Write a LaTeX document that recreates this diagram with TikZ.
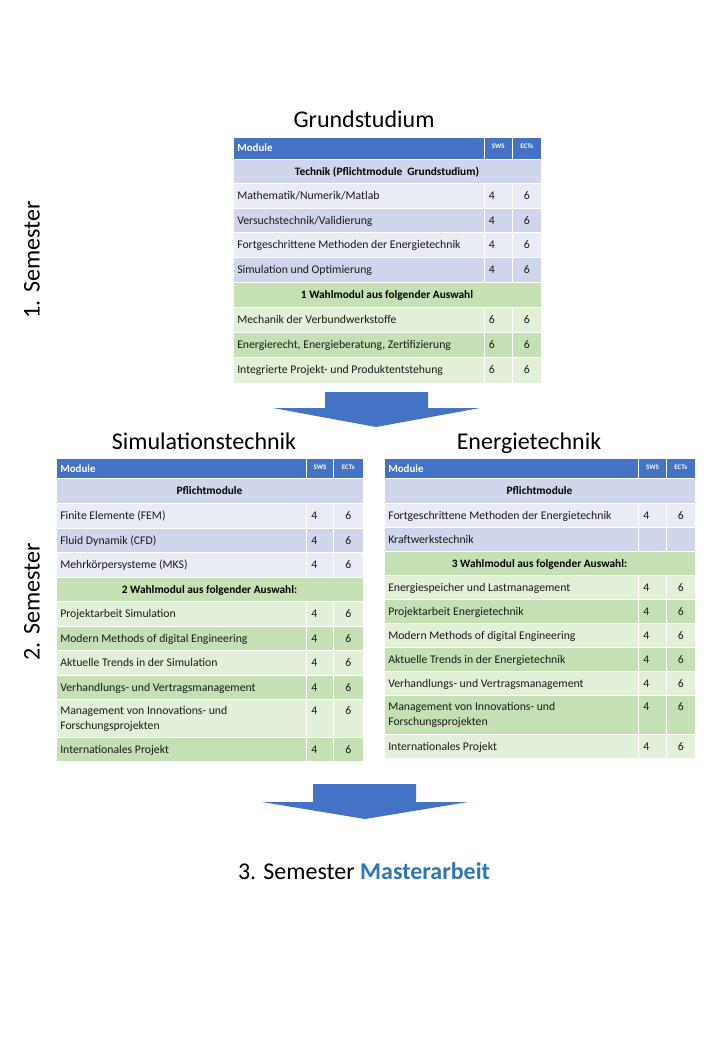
\documentclass[tikz,border=0pt]{standalone}
\usepackage{fontspec}
\setmainfont{Carlito}
\definecolor{hdrblue}{RGB}{68,114,196}
\definecolor{lavd}{RGB}{207,213,234}
\definecolor{lavl}{RGB}{233,235,245}
\definecolor{grnd}{RGB}{197,224,180}
\definecolor{grnl}{RGB}{226,240,217}
\definecolor{txt}{RGB}{25,25,25}
\definecolor{mablue}{RGB}{46,117,182}
\tikzset{
  cellbg/.style={draw=white, line width=0.75pt},
  celltxt/.style={inner sep=0pt, font=\fontsize{8.8}{10}\selectfont, text=txt, anchor=base west},
  ectstxt/.style={inner sep=0pt, font=\fontsize{8.8}{10}\selectfont, text=txt, anchor=base},
  grouptxt/.style={inner sep=0pt, font=\bfseries\fontsize{8.5}{10}\selectfont, text=black, anchor=base},
  hdrtxt/.style={inner sep=0pt, font=\bfseries\fontsize{8.2}{10}\selectfont, text=white, anchor=base west},
  colhdr/.style={inner sep=0pt, font=\bfseries\fontsize{5.2}{6}\selectfont, text=white, anchor=base},
  titletxt/.style={inner sep=0pt, font=\fontsize{18}{22}\selectfont, text=black, anchor=base},
  semtxt/.style={inner sep=0pt, font=\fontsize{18}{22}\selectfont, text=black, rotate=90},
  blockarrow/.style={fill=hdrblue, draw=none}
}
\newcommand\settab[4]{\def\xa{#1}\def\xb{#2}\def\xc{#3}\def\xd{#4}}
% header row
\newcommand\hrow[3]{%
  \path[cellbg, fill=hdrblue] (\xa,#2) rectangle (\xb,#3);
  \path[cellbg, fill=hdrblue] (\xb,#2) rectangle (\xc,#3);
  \path[cellbg, fill=hdrblue] (\xc,#2) rectangle (\xd,#3);
  \node[hdrtxt] (#1) at (\xa+4,#2+14.5) {Module};
  \node[colhdr] (#1s) at ({(\xb+\xc)/2},#2+11) {SWS};
  \node[colhdr] (#1e) at ({(\xc+\xd)/2},#2+11) {ECTs};
}
% group row spanning the table
\newcommand\grow[5]{%
  \path[cellbg, fill=#4] (\xa,#2) rectangle (\xd,#3);
  \node[grouptxt] (#1) at ({(\xa+\xd)/2},#2+16) {#5};
}
% normal row
\newcommand\trow[7]{%
  \path[cellbg, fill=#4] (\xa,#2) rectangle (\xb,#3);
  \path[cellbg, fill=#4] (\xb,#2) rectangle (\xc,#3);
  \path[cellbg, fill=#4] (\xc,#2) rectangle (\xd,#3);
  \node[celltxt] (#1) at (\xa+4,#2+16.5) {#5};
  \node[celltxt] (#1s) at (\xb+4.5,#2+16.5) {#6};
  \node[ectstxt] (#1e) at ({(\xc+\xd)/2},#2+16.5) {#7};
}
% two-line row
\newcommand\trowtwo[8]{%
  \path[cellbg, fill=#4] (\xa,#2) rectangle (\xb,#3);
  \path[cellbg, fill=#4] (\xb,#2) rectangle (\xc,#3);
  \path[cellbg, fill=#4] (\xc,#2) rectangle (\xd,#3);
  \node[celltxt] (#1) at (\xa+4,#2+15.5) {#5};
  \node[celltxt] (#1b) at (\xa+4,#2+30.5) {#6};
  \node[celltxt] (#1s) at (\xb+4.5,#2+15.5) {#7};
  \node[ectstxt] (#1e) at ({(\xc+\xd)/2},#2+15.5) {#8};
}
\begin{document}
\begin{tikzpicture}[x=0.75pt, y=-0.75pt]
\useasboundingbox[fill=white] (0,0) rectangle (720,1040);

% titles
\node[titletxt] (tg) at (364,127) {Grundstudium};
\node[titletxt] (ts) at (204,449) {Simulationstechnik};
\node[titletxt] (te) at (529,449) {Energietechnik};
\node[titletxt] (t3) at (364,879) {3. Semester \textcolor{mablue}{\bfseries Masterarbeit}};
\node[semtxt] (s1) at (32,260) {1. Semester};
\node[semtxt] (s2) at (32,602) {2. Semester};

% top table
\settab{233}{484}{512.5}{541}
\hrow{gh}{137}{159}
\grow{gg1}{159}{183}{lavd}{Technik (Pflichtmodule\ \ Grundstudium)}
\trow{g1}{183}{208}{lavl}{Mathematik/Numerik/Matlab}{4}{6}
\trow{g2}{208}{232}{lavd}{Versuchstechnik/Validierung}{4}{6}
\trow{g3}{232}{257}{lavl}{Fortgeschrittene Methoden der Energietechnik}{4}{6}
\trow{g4}{257}{282}{lavd}{Simulation und Optimierung}{4}{6}
\grow{gg2}{282}{307}{grnd}{1 Wahlmodul aus folgender Auswahl}
\trow{g5}{307}{332}{grnl}{Mechanik der Verbundwerkstoffe}{6}{6}
\trow{g6}{332}{357}{grnd}{Energierecht, Energieberatung, Zertifizierung}{6}{6}
\trow{g7}{357}{383}{grnl}{Integrierte Projekt- und Produktentstehung}{6}{6}

% left table
\settab{56}{306.5}{333.5}{363}
\hrow{lh}{458}{478}
\grow{lg1}{478}{503}{lavd}{Pflichtmodule}
\trow{l1}{503}{528}{lavl}{Finite Elemente (FEM)}{4}{6}
\trow{l2}{528}{552}{lavd}{Fluid Dynamik (CFD)}{4}{6}
\trow{l3}{552}{577}{lavl}{Mehrkörpersysteme (MKS)}{4}{6}
\grow{lg2}{577}{601}{grnd}{2 Wahlmodul aus folgender Auswahl:}
\trow{l4}{601}{626}{grnl}{Projektarbeit Simulation}{4}{6}
\trow{l5}{626}{650}{grnd}{Modern Methods of digital Engineering}{4}{6}
\trow{l6}{650}{675}{grnl}{Aktuelle Trends in der Simulation}{4}{6}
\trow{l7}{675}{699}{grnd}{Verhandlungs- und Vertragsmanagement}{4}{6}
\trowtwo{l8}{699}{737}{grnl}{Management von Innovations- und}{Forschungsprojekten}{4}{6}
\trow{l9}{737}{761}{grnd}{Internationales Projekt}{4}{6}

% right table
\settab{384}{638.5}{666.5}{695}
\hrow{rh}{458}{478}
\grow{rg1}{478}{503}{lavd}{Pflichtmodule}
\trow{r1}{503}{527}{lavl}{Fortgeschrittene Methoden der Energietechnik}{4}{6}
\trow{r2}{527}{551}{lavd}{Kraftwerkstechnik}{}{}
\grow{rg2}{551}{575}{grnd}{3 Wahlmodul aus folgender Auswahl:}
\trow{r3}{575}{599}{grnl}{Energiespeicher und Lastmanagement}{4}{6}
\trow{r4}{599}{623}{grnd}{Projektarbeit Energietechnik}{4}{6}
\trow{r5}{623}{647}{grnl}{Modern Methods of digital Engineering}{4}{6}
\trow{r6}{647}{671}{grnd}{Aktuelle Trends in der Energietechnik}{4}{6}
\trow{r7}{671}{695}{grnl}{Verhandlungs- und Vertragsmanagement}{4}{6}
\trowtwo{r8}{695}{734}{grnd}{Management von Innovations- und}{Forschungsprojekten}{4}{6}
\trow{r9}{734}{758}{grnl}{Internationales Projekt}{4}{6}

% block arrows
\path[blockarrow] (325,392) -- (428,392) -- (428,408) -- (480,408) -- (376,427) -- (273,408) -- (325,408) -- cycle;
\path[blockarrow] (313,784) -- (416,784) -- (416,802) -- (468,802) -- (365,819) -- (262,802) -- (313,802) -- cycle;
\end{tikzpicture}
\end{document}
